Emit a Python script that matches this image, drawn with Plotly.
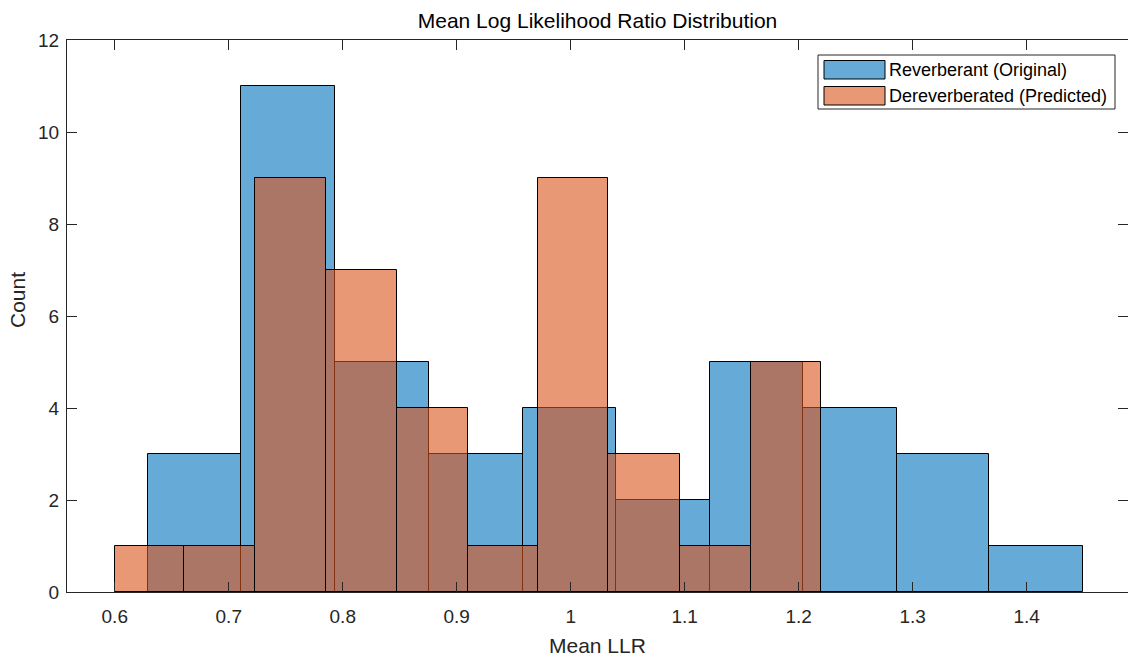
import plotly.graph_objects as go

# Bin edges and counts for each histogram
reverb_edges = [0.629, 0.711, 0.793, 0.876, 0.958, 1.040, 1.122, 1.204, 1.286, 1.367, 1.449]
reverb_counts = [3, 11, 5, 3, 4, 2, 5, 4, 3, 1]

derev_edges = [0.600, 0.661, 0.723, 0.785, 0.848, 0.910, 0.971, 1.033, 1.096, 1.158, 1.220]
derev_counts = [1, 1, 9, 7, 4, 1, 9, 3, 1, 5]

series_names = ["Reverberant (Original)", "Dereverberated (Predicted)"]
series_colors = ["rgba(0,114,189,0.6)", "rgba(217,83,25,0.6)"]

x_ticks = [0.6, 0.7, 0.8, 0.9, 1.0, 1.1, 1.2, 1.3, 1.4]
x_tick_text = ["0.6", "0.7", "0.8", "0.9", "1", "1.1", "1.2", "1.3", "1.4"]
y_ticks = [0, 2, 4, 6, 8, 10, 12]

FONT = "Arial, Liberation Sans, Helvetica, sans-serif"
AX = "#262626"


def bars(edges, counts, color, name):
    centers = [(a + b) / 2 for a, b in zip(edges[:-1], edges[1:])]
    widths = [b - a for a, b in zip(edges[:-1], edges[1:])]
    return go.Bar(
        x=centers, y=counts, width=widths, name=name,
        marker=dict(color=color, line=dict(color="black", width=1)),
        showlegend=False,
    )


fig = go.Figure()
fig.add_trace(bars(reverb_edges, reverb_counts, series_colors[0], series_names[0]))
fig.add_trace(bars(derev_edges, derev_counts, series_colors[1], series_names[1]))

W, H = 1128, 660
ML, MR, MT, MB = 67, 0, 40, 68
pw, ph = W - ML - MR, H - MT - MB


def px(x):
    return (x - ML) / pw


def py(y):
    return (H - MB - y) / ph


shapes = []
annotations = []

# Legend box with wide swatches
shapes.append(dict(type="rect", xref="paper", yref="paper",
                   x0=px(818), x1=px(1115), y0=py(109), y1=py(55),
                   line=dict(color=AX, width=1), fillcolor="white", layer="above"))
for i, (name, col) in enumerate(zip(series_names, series_colors)):
    top = 60.5 + i * 26
    shapes.append(dict(type="rect", xref="paper", yref="paper",
                       x0=px(824), x1=px(885), y0=py(top + 18.5), y1=py(top),
                       line=dict(color="black", width=1), fillcolor=col, layer="above"))
    annotations.append(dict(xref="paper", yref="paper", x=px(887), y=py(top + 9.5),
                            text=name, showarrow=False, xanchor="left", yanchor="middle",
                            font=dict(family=FONT, size=18, color="black")))

# Axis titles
annotations.append(dict(xref="paper", yref="paper", x=0.5, y=py(645), text="Mean LLR",
                        showarrow=False, xanchor="center", yanchor="middle",
                        font=dict(family=FONT, size=21, color=AX)))
annotations.append(dict(xref="paper", yref="paper", x=px(17), y=py(300), text="Count",
                        showarrow=False, xanchor="center", yanchor="middle", textangle=-90,
                        font=dict(family=FONT, size=21, color=AX)))

fig.update_layout(
    width=W, height=H,
    margin=dict(l=ML, r=MR, t=MT, b=MB),
    barmode="overlay",
    bargap=0,
    plot_bgcolor="white",
    paper_bgcolor="white",
    title=dict(text="Mean Log Likelihood Ratio Distribution", x=0.5, xref="paper",
               y=1 - 21 / H, yref="container", yanchor="middle", xanchor="center",
               font=dict(family=FONT, size=21, color="black")),
    shapes=shapes,
    annotations=annotations,
    xaxis=dict(range=[0.5581, 1.4889], tickvals=x_ticks, ticktext=x_tick_text,
               ticks="inside", ticklen=10, tickcolor=AX, showline=True, linecolor=AX,
               linewidth=1, mirror="ticks", showgrid=False, zeroline=False,
               ticklabelstandoff=7,
               tickfont=dict(family=FONT, size=19, color=AX)),
    yaxis=dict(range=[0, 12], tickvals=y_ticks, ticks="inside", ticklen=10, tickcolor=AX,
               showline=True, linecolor=AX, linewidth=1, mirror="ticks", showgrid=False,
               zeroline=False, ticklabelstandoff=3,
               tickfont=dict(family=FONT, size=19, color=AX)),
)

fig.write_html("out.html")
